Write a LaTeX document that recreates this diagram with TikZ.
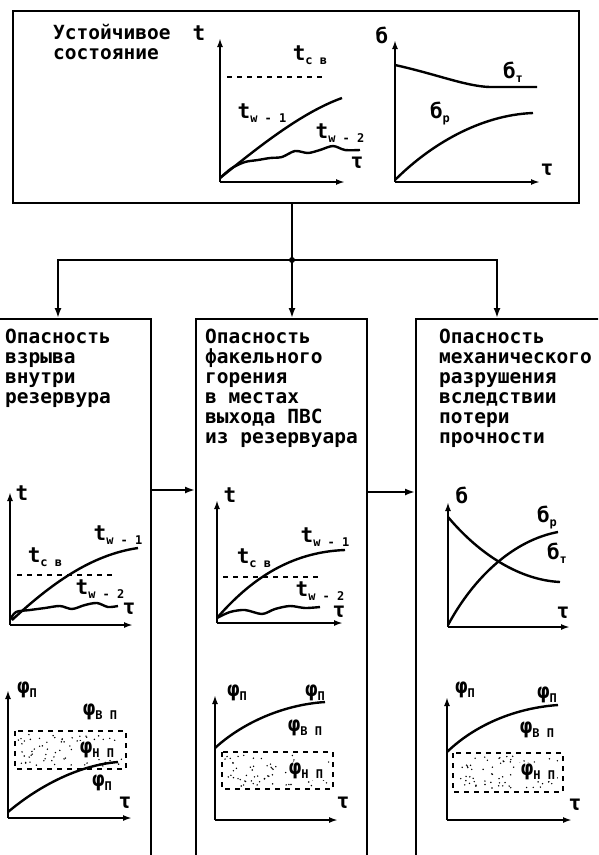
\documentclass[tikz,border=0pt]{standalone}
\usepackage{fontspec}
\setmainfont{DejaVu Sans Mono}
\usetikzlibrary{arrows.meta}
\tikzset{
  frame/.style = {draw, line width=1.8pt, anchor=north west, inner sep=0},
  link/.style  = {line width=1.8pt},
  tip/.style   = {-{Latex[length=10pt,width=7pt]}},
  axis/.style  = {line width=1.8pt, -{Latex[length=9pt,width=6pt]}},
  curve/.style = {line width=2.4pt},
  level/.style = {line width=1.3pt, dash pattern=on 5pt off 5pt},
  heading/.style = {font=\bfseries\fontsize{19.5}{20}\selectfont, align=left,
    inner sep=0, anchor=north west},
  lbl/.style   = {font=\bfseries\fontsize{21}{21}\selectfont, inner sep=0},
  inband/.style = {lbl, fill=white, inner sep=1.5pt}
}
% symbol with lowered index
\newcommand{\lab}[2]{#1\raisebox{-4pt}{\fontsize{12}{12}\selectfont#2}}
% random dots in a band
\newcommand{\stipple}[4]{%
  \foreach \i in {1,...,70}{%
    \pgfmathsetmacro{\sx}{#1+3+rnd*(#3-#1-6)}%
    \pgfmathsetmacro{\sy}{#2+3+rnd*(#4-#2-6)}%
    \fill (\sx,\sy) circle (0.8pt);%
  }%
}
\begin{document}
\begin{tikzpicture}[x=1pt,y=-1pt]
\useasboundingbox (0,0) rectangle (598,855);
\fill[white] (0,0) rectangle (598,855);
\clip (0,0) rectangle (598,855);
\pgfmathsetseed{7}

% boxes
\node[frame, minimum width=566pt, minimum height=192pt] (top) at (12,10) {};
\node[frame, minimum width=180pt, minimum height=560pt] (lbox) at (-30,318) {};
\node[frame, minimum width=171pt, minimum height=560pt] (mbox) at (195,318) {};
\node[frame, minimum width=200pt, minimum height=560pt] (rbox) at (415,318) {};

% box texts
\node[heading] (ttop) at (53,24) {Устойчивое\\состояние};
\node[heading] (tl) at (5,329) {Опасность\\взрыва\\внутри\\резервура};
\node[heading] (tm) at (205,329) {Опасность\\факельного\\горения\\в местах\\выхода ПВС\\из резервуара};
\node[heading] (tr) at (439,329) {Опасность\\механического\\разрушения\\вследствии\\потери\\прочности};

% connectors
\coordinate (junc) at (292,260);
\coordinate (inL) at (58,318);
\coordinate (inR) at (497,318);
\coordinate (hA) at (0,490);
\coordinate (hB) at (0,492);
\draw[link] (top.south -| junc) -- (junc);
\fill (junc) circle (3pt);
\draw[link,tip] (junc) -| (inL);
\draw[link,tip] (junc) -| (inR);
\draw[link,tip] (junc) -- (mbox.north -| junc);
\draw[link,tip] (lbox.east |- hA) -- (mbox.west |- hA);
\draw[link,tip] (mbox.east |- hB) -- (rbox.west |- hB);

% top: temperature
\coordinate (o1) at (220,182);
\draw[axis] (o1) -- (220,38);
\draw[axis] (o1) -- (345,182);
\draw[level] (227,77) -- (325,77);
\draw[curve] (220,178) .. controls (255,150) and (300,113) .. (342,98);
\draw[curve] plot[smooth] coordinates {(220,178) (232,168) (245,162) (258,160)
  (270,158) (282,157) (295,151) (308,153) (320,150) (333,146) (345,150) (360,150)};
\node[lbl] (t1) at (199,33) {t};
\node[lbl] (t1sv) at (310,55) {\lab{t}{с в}};
\node[lbl] (t1w1) at (262,113) {\lab{t}{w - 1}};
\node[lbl] (t1w2) at (340,133) {\lab{t}{w - 2}};
\node[lbl] (tau1) at (357,163) {τ};

% top: stress
\coordinate (o2) at (395,182);
\draw[axis] (o2) -- (395,40);
\draw[axis] (o2) -- (540,182);
\draw[curve] (395,65) .. controls (440,75) and (470,88) .. (495,87) -- (537,87);
\draw[curve] (395,180) .. controls (430,145) and (480,115) .. (533,113);
\node[lbl] (s2) at (382,35) {б};
\node[lbl] (s2t) at (513,72) {\lab{б}{т}};
\node[lbl] (s2p) at (440,113) {\lab{б}{р}};
\node[lbl] (tau2) at (547,170) {τ};

% left: temperature
\coordinate (o3) at (10,625);
\draw[axis] (o3) -- (10,492);
\draw[axis] (o3) -- (133,625);
\draw[level] (17,575) -- (115,575);
\draw[curve] (12,620) .. controls (50,585) and (90,555) .. (138,548);
\draw[curve] plot[smooth] coordinates {(10,620) (16,612) (30,610) (45,608)
  (60,606) (72,609) (85,605) (97,603) (108,607) (118,606)};
\node[lbl] (t3) at (22,493) {t};
\node[lbl] (t3sv) at (45,557) {\lab{t}{с в}};
\node[lbl] (t3w1) at (118,535) {\lab{t}{w - 1}};
\node[lbl] (t3w2) at (100,589) {\lab{t}{w - 2}};
\node[lbl] (tau3) at (129,609) {τ};

% left: concentration
\coordinate (o4) at (8,818);
\draw[axis] (o4) -- (8,690);
\draw[axis] (o4) -- (132,818);
\draw[level] (15,731) rectangle (126,769);
\stipple{15}{731}{126}{769}
\draw[curve] (8,812) .. controls (40,785) and (80,765) .. (118,762);
\node[lbl] (f4) at (27,690) {\lab{φ}{П}};
\node[lbl] (f4v) at (100,712) {\lab{φ}{В П}};
\node[inband] (f4n) at (97,750) {\lab{φ}{Н П}};
\node[lbl] (f4p) at (102,783) {\lab{φ}{П}};
\node[lbl] (tau4) at (125,803) {τ};

% middle: temperature
\coordinate (o5) at (217,623);
\draw[axis] (o5) -- (217,500);
\draw[axis] (o5) -- (343,623);
\draw[level] (223,577) -- (322,577);
\draw[curve] (217,618) .. controls (250,580) and (290,552) .. (345,550);
\draw[curve] plot[smooth] coordinates {(217,618) (230,612) (245,610) (262,614)
  (275,609) (290,606) (305,608) (320,607)};
\node[lbl] (t5) at (230,495) {t};
\node[lbl] (t5sv) at (254,558) {\lab{t}{с в}};
\node[lbl] (t5w1) at (325,537) {\lab{t}{w - 1}};
\node[lbl] (t5w2) at (320,591) {\lab{t}{w - 2}};
\node[lbl] (tau5) at (339,612) {τ};

% middle: concentration
\coordinate (o6) at (215,820);
\draw[axis] (o6) -- (215,695);
\draw[axis] (o6) -- (338,820);
\draw[level] (222,752) rectangle (333,789);
\stipple{222}{752}{333}{789}
\draw[curve] (215,748) .. controls (240,725) and (280,705) .. (325,702);
\node[lbl] (f6) at (237,693) {\lab{φ}{П}};
\node[lbl] (f6p) at (315,693) {\lab{φ}{П}};
\node[lbl] (f6v) at (305,728) {\lab{φ}{В П}};
\node[inband] (f6n) at (306,771) {\lab{φ}{Н П}};
\node[lbl] (tau6) at (343,803) {τ};

% right: stress
\coordinate (o7) at (448,627);
\draw[axis] (o7) -- (448,502);
\draw[axis] (o7) -- (570,627);
\draw[curve] (448,517) .. controls (480,555) and (520,580) .. (560,582);
\draw[curve] (448,625) .. controls (475,575) and (515,540) .. (558,532);
\node[lbl] (s7) at (462,495) {б};
\node[lbl] (s7p) at (547,517) {\lab{б}{р}};
\node[lbl] (s7t) at (557,553) {\lab{б}{т}};
\node[lbl] (tau7) at (563,613) {τ};

% right: concentration
\coordinate (o8) at (447,820);
\draw[axis] (o8) -- (447,697);
\draw[axis] (o8) -- (572,820);
\draw[level] (453,753) rectangle (563,792);
\stipple{453}{753}{563}{792}
\draw[curve] (447,752) .. controls (475,725) and (515,708) .. (558,705);
\node[lbl] (f8) at (465,690) {\lab{φ}{П}};
\node[lbl] (f8p) at (547,695) {\lab{φ}{П}};
\node[lbl] (f8v) at (537,730) {\lab{φ}{В П}};
\node[inband] (f8n) at (538,772) {\lab{φ}{Н П}};
\node[lbl] (tau8) at (575,805) {τ};
\end{tikzpicture}
\end{document}
